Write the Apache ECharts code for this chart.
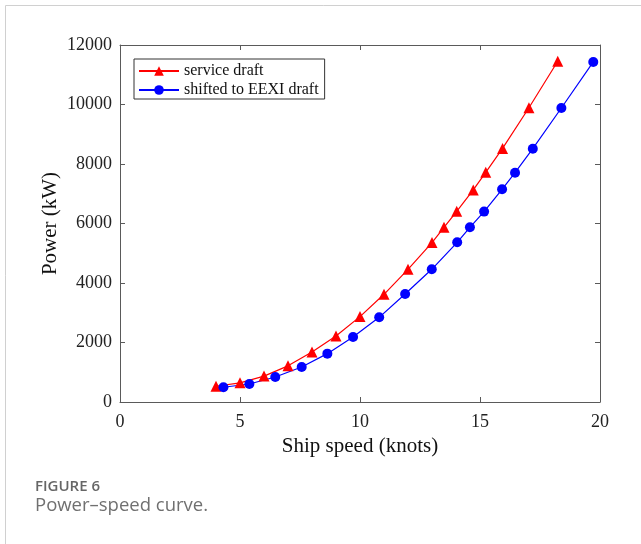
<!DOCTYPE html>
<html>
<head>
<meta charset="utf-8">
<script src="https://cdn.jsdelivr.net/npm/echarts@6/dist/echarts.min.js"></script>
<style>
html,body{margin:0;padding:0;background:#fff;}
#chart{width:641px;height:544px;}
</style>
</head>
<body>
<div id="chart"></div>
<script>
const seriesNames = ['service draft', 'shifted to EEXI draft'];
const speedService = [4, 5, 6, 7, 8, 9, 10, 11, 12, 13, 13.5, 14.03, 14.72, 15.24, 15.94, 17.04, 18.24];
const powerService = [530, 645, 870, 1215, 1680, 2220, 2870, 3620, 4460, 5360, 5870, 6410, 7130, 7720, 8525, 9890, 11455];
const speedEEXI = [4.31, 5.39, 6.47, 7.57, 8.64, 9.71, 10.80, 11.88, 12.99, 14.05, 14.58, 15.17, 15.92, 16.46, 17.20, 18.39, 19.72];
const powerEEXI = [495, 605, 840, 1176, 1625, 2185, 2846, 3630, 4460, 5368, 5871, 6400, 7150, 7708, 8515, 9882, 11430];
const xTicks = [0, 5, 10, 15, 20];
const yTicks = [0, 2000, 4000, 6000, 8000, 10000, 12000];
const xLabel = 'Ship speed (knots)';
const yLabel = 'Power (kW)';
const captionTitle = 'FIGURE 6';
const captionText = 'Power\u2013speed curve.';

const serif = "'Liberation Serif', 'Times New Roman', serif";
const axisColor = '#5a5a5a';

function pairs(xs, ys) { return xs.map((x, i) => [x, ys[i]]); }

const chart = echarts.init(document.getElementById('chart'), null, {renderer: 'canvas'});

const baseX = {
  type: 'value', min: xTicks[0], max: xTicks[xTicks.length - 1], interval: 5,
  axisLine: {show: true, onZero: false, lineStyle: {color: axisColor, width: 1}},
  axisTick: {show: true, inside: true, length: 5, lineStyle: {color: axisColor}},
  splitLine: {show: false}
};
const baseY = {
  type: 'value', min: yTicks[0], max: yTicks[yTicks.length - 1], interval: 2000,
  axisLine: {show: true, onZero: false, lineStyle: {color: axisColor, width: 1}},
  axisTick: {show: true, inside: true, length: 5, lineStyle: {color: axisColor}},
  splitLine: {show: false}
};

chart.setOption({
  animation: false,
  backgroundColor: '#ffffff',
  grid: {left: 120, right: 41, top: 45, bottom: 142, containLabel: false},
  legend: {
    show: true,
    orient: 'vertical',
    left: 134, top: 59,
    data: seriesNames,
    itemWidth: 40, itemHeight: 12, itemGap: 3,
    padding: [4, 6, 1, 4],
    borderColor: '#333', borderWidth: 1,
    backgroundColor: '#fff',
    textStyle: {fontFamily: serif, fontSize: 16, color: '#111'}
  },
  xAxis: [
    Object.assign({}, baseX, {
      position: 'bottom',
      name: xLabel, nameLocation: 'middle', nameGap: 34, nameMoveOverlap: false,
      nameTextStyle: {fontFamily: serif, fontSize: 21, color: '#111'},
      axisLabel: {fontFamily: serif, fontSize: 18, color: '#222', margin: 11}
    }),
    Object.assign({}, baseX, {position: 'top', axisLabel: {show: false}})
  ],
  yAxis: [
    Object.assign({}, baseY, {
      position: 'left',
      name: yLabel, nameLocation: 'middle', nameGap: 59, nameMoveOverlap: false,
      nameTextStyle: {fontFamily: serif, fontSize: 21, color: '#111'},
      axisLabel: {fontFamily: serif, fontSize: 18, color: '#222', margin: 8,
        formatter: v => String(v)}
    }),
    Object.assign({}, baseY, {position: 'right', axisLabel: {show: false}})
  ],
  series: [
    {
      name: seriesNames[0], type: 'line', xAxisIndex: 0, yAxisIndex: 0,
      data: pairs(speedService, powerService),
      symbol: 'triangle', symbolSize: 11,
      lineStyle: {color: '#ff0000', width: 1.2},
      itemStyle: {color: '#ff0000'}
    },
    {
      name: seriesNames[1], type: 'line', xAxisIndex: 0, yAxisIndex: 0,
      data: pairs(speedEEXI, powerEEXI),
      symbol: 'circle', symbolSize: 10,
      lineStyle: {color: '#0000ff', width: 1.2},
      itemStyle: {color: '#0000ff'}
    }
  ],
  graphic: [
    {type: 'rect', shape: {x: 5.5, y: 5.5, width: 700, height: 700},
     style: {fill: 'none', stroke: '#d0d0d0', lineWidth: 1}, silent: true, z: -10},
    {type: 'text', x: 35, y: 486.5,
     style: {text: captionTitle, font: "600 15px 'Open Sans', 'Noto Sans', sans-serif", fill: '#666', verticalAlign: 'middle'}},
    {type: 'text', x: 35, y: 505.5,
     style: {text: captionText, font: "18.5px 'Open Sans', 'Noto Sans', sans-serif", fill: '#707070', verticalAlign: 'middle'}}
  ]
});
</script>
</body>
</html>
